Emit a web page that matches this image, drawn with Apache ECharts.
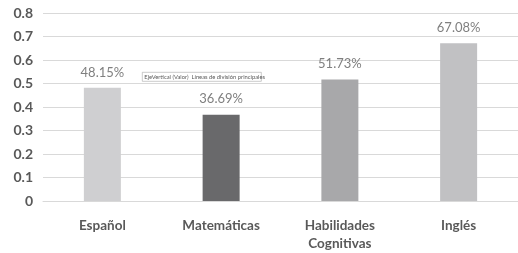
<!DOCTYPE html>
<html>
<head>
<meta charset="utf-8">
<script src="https://cdn.jsdelivr.net/npm/echarts@6/dist/echarts.min.js"></script>
<style>
  html, body { margin: 0; padding: 0; background: #fff; }
  #chart { width: 518px; height: 253px; }
</style>
</head>
<body>
<div id="chart"></div>
<script>
// materias
const categories = ['Español', 'Matemáticas', 'Habilidades\nCognitivas', 'Inglés']
const values = [0.4815, 0.3669, 0.5173, 0.6708]
const barColors = ['#cfcfd1', '#69696b', '#a8a8aa', '#c1c1c3']
const yTicks = [0, 0.1, 0.2, 0.3, 0.4, 0.5, 0.6, 0.7, 0.8]

const font = 'Lato, "Open Sans", sans-serif'
const myChart = echarts.init(document.getElementById('chart'))

const option = {
  animation: false,
  grid: { left: 43, top: 13, width: 480, height: 190 },
  xAxis: {
    type: 'category',
    data: categories,
    axisLine: { show: true, lineStyle: { color: '#d9d9d9', width: 1 } },
    axisTick: { show: false },
    axisLabel: {
      margin: 16,
      color: '#595959',
      fontFamily: font,
      fontWeight: 'bold',
      fontSize: 13.5,
      lineHeight: 18,
      interval: 0
    }
  },
  yAxis: {
    type: 'value',
    min: 0,
    max: 0.8,
    interval: 0.1,
    axisLine: { show: false },
    axisTick: { show: false },
    splitLine: { lineStyle: { color: '#d9d9d9', width: 1 } },
    axisLabel: {
      margin: 10,
      color: '#595959',
      fontFamily: font,
      fontWeight: 'bold',
      fontSize: 14,
      formatter: v => {
        const t = yTicks.find(x => Math.abs(x - v) < 1e-6)
        return t === 0 ? '0' : String(t)
      }
    }
  },
  series: [{
    type: 'bar',
    barWidth: 37,
    data: values.map((v, i) => ({ value: v, itemStyle: { color: barColors[i] } })),
    label: {
      show: true,
      position: 'top',
      distance: 9,
      color: '#7f7f7f',
      fontFamily: font,
      fontSize: 13,
      formatter: p => (p.value * 100).toFixed(2) + '%'
    }
  }],
  // cuadro de ayuda que quedó en la captura
  graphic: [{
    type: 'group',
    left: 142,
    top: 72,
    children: [{
      type: 'rect',
      shape: { x: 0, y: 0, width: 119, height: 9 },
      style: { fill: '#ffffff', stroke: '#a6a6a6', lineWidth: 0.6 }
    }, {
      type: 'text',
      x: 2,
      y: 1.5,
      style: {
        text: 'EjeVertical (Valor)  Líneas de división principales',
        fontSize: 5.8,
        fontFamily: font,
        fill: '#595959'
      }
    }]
  }]
}
myChart.setOption(option)
window.addEventListener('resize', () => myChart.resize())
</script>
</body>
</html>
